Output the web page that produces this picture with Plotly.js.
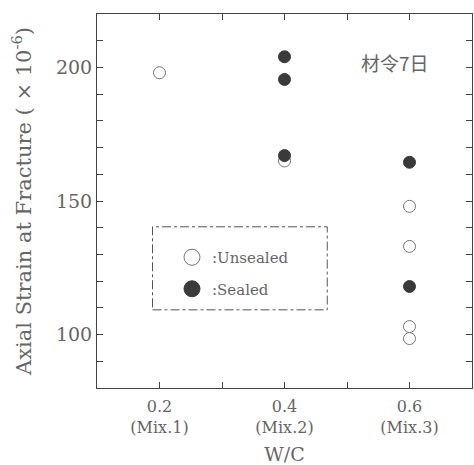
<!DOCTYPE html>
<html><head><meta charset="utf-8">
<script src="https://cdn.plot.ly/plotly-3.0.1.min.js"></script>
<style>html,body{margin:0;padding:0;background:#fff}#chart{width:474px;height:465px}</style>
</head><body><div id="chart"></div>
<script>
// W/C ratio of each specimen
const unsealedX = [0.2, 0.4, 0.6, 0.6, 0.6, 0.6];
const unsealedY = [198, 165, 148, 133, 103, 98.5];
const sealedX = [0.4, 0.4, 0.4, 0.6, 0.6];
const sealedY = [204, 195.5, 167, 164.5, 118];
const xTickVals = [0.2, 0.4, 0.6];
const xTickText = ['0.2<br>(Mix.1)', '0.4<br>(Mix.2)', '0.6<br>(Mix.3)'];
const xMinorVals = [0.3, 0.5];
const yTickVals = [100, 150, 200];
const yTickText = ['100', '150', '200'];
const yMinorVals = [90, 110, 120, 130, 140, 160, 170, 180, 190, 210];
const legendNames = [':Unsealed', ':Sealed'];

const serif = 'DejaVu Serif, Liberation Serif, serif';
const gray = '#666';
const data = [
  {x: unsealedX, y: unsealedY, type: 'scatter', mode: 'markers', showlegend: false,
   marker: {size: 12, color: '#fff', line: {color: '#777', width: 1}}},
  {x: sealedX, y: sealedY, type: 'scatter', mode: 'markers', showlegend: false,
   marker: {size: 12, color: '#3a3a3a', line: {color: '#3a3a3a', width: 1}}},
  {x: [null], y: [null], type: 'scatter', mode: 'markers', name: legendNames[0], legendgroup: 'u',
   marker: {size: 18, color: '#fff', line: {color: '#777', width: 1}}},
  {x: [null], y: [null], type: 'scatter', mode: 'markers', name: legendNames[1], legendgroup: 's',
   marker: {size: 18, color: '#3a3a3a', line: {color: '#3a3a3a', width: 1}}}
];
const tickStyle = {ticks: 'inside', ticklen: 6, tickcolor: '#444', tickwidth: 1};
const layout = {
  width: 474, height: 465,
  margin: {l: 97, r: 2, t: 14, b: 77},
  paper_bgcolor: '#fff', plot_bgcolor: '#fff',
  font: {family: serif, color: gray},
  xaxis: Object.assign({range: [0.1, 0.7], tickvals: xTickVals, ticktext: xTickText,
    minor: Object.assign({tickvals: xMinorVals, showgrid: false}, tickStyle),
    showline: true, linecolor: '#444', mirror: 'ticks', ticklabelstandoff: 4,
    showgrid: false, zeroline: false, tickfont: {size: 16, family: serif, color: gray},
    title: {text: 'W/C', font: {size: 19, family: serif, color: gray}, standoff: 14}}, tickStyle),
  yaxis: Object.assign({range: [80, 220], tickvals: yTickVals, ticktext: yTickText,
    minor: Object.assign({tickvals: yMinorVals, showgrid: false}, tickStyle),
    showline: true, linecolor: '#444', mirror: 'ticks',
    showgrid: false, zeroline: false, tickfont: {size: 19, family: serif, color: gray},
    title: {text: 'Axial Strain at Fracture ( × 10<sup>-6</sup>)', font: {size: 21, family: serif, color: gray}, standoff: 18}}, tickStyle),
  legend: {x: 0.2, y: 0.393, xanchor: 'left', yanchor: 'top', bgcolor: 'rgba(0,0,0,0)',
    font: {size: 15, family: serif, color: gray}, itemwidth: 30, tracegroupgap: 9},
  shapes: [{type: 'rect', xref: 'paper', yref: 'paper', x0: 0.148, x1: 0.614, y0: 0.209, y1: 0.431,
    line: {color: '#555', width: 1, dash: 'dashdot'}}],
  annotations: [{text: '材令7日', xref: 'paper', yref: 'paper', x: 0.795, y: 0.869, xanchor: 'center', yanchor: 'middle',
    showarrow: false, font: {size: 19, family: 'Noto Sans CJK SC', color: gray}}]
};
Plotly.newPlot('chart', data, layout, {displayModeBar: false});
</script></body></html>
